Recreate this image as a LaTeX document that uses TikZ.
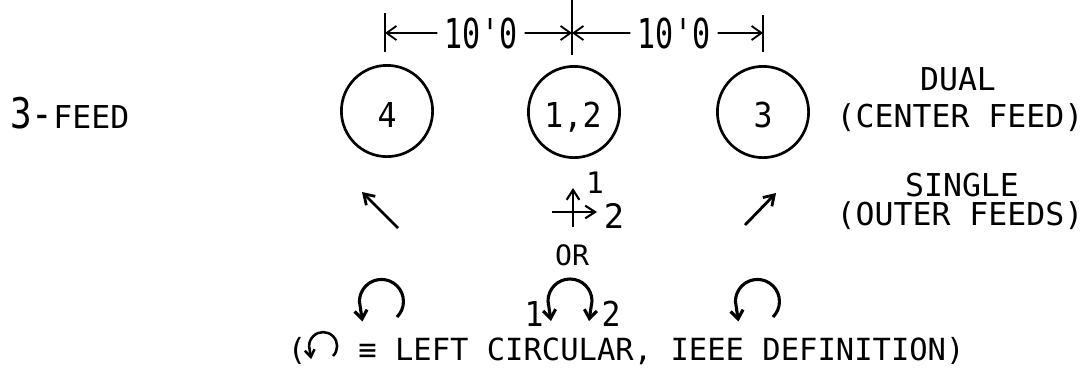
\documentclass[tikz,border=0pt]{standalone}
\usepackage{fontspec}
\setmonofont{DejaVu Sans Mono}
\usetikzlibrary{positioning, arrows.meta}

% narrow lettering-guide digits
\newcommand{\narrow}[2][0.8]{\scalebox{#1}[1]{#2}}

\begin{document}
\begin{tikzpicture}[x=0.025cm, y=-0.025cm,
    every node/.style={inner sep=0pt},
    feed/.style={draw, circle, line width=1.9pt, minimum size=2.28cm},
    lbl/.style={font=\ttfamily\fontsize{22.4pt}{26pt}\selectfont},
    num/.style={font=\ttfamily\fontsize{24.4pt}{28pt}\selectfont},
    dim/.style={font=\ttfamily\fontsize{29.3pt}{32pt}\selectfont, inner xsep=5pt},
    dimline/.style={line width=1.3pt, -{Straight Barb[length=7pt, width=10pt]}},
    tick/.style={line width=1.8pt},
    pol/.style={line width=2pt, -{Straight Barb[length=7pt, width=9pt]}},
    loop/.style={line width=2.2pt, line join=round, -{Straight Barb[length=6pt, width=9pt]}}]
  \useasboundingbox (0,0) rectangle (1092,369);

  % dimension line
  \coordinate (t1a) at (385,13);  \coordinate (t1b) at (385,52);
  \coordinate (t2a) at (572,0);   \coordinate (t2b) at (572,55);
  \coordinate (t3a) at (763,15);  \coordinate (t3b) at (763,52);
  \draw[tick] (t1a) -- (t1b);
  \draw[tick] (t2a) -- (t2b);
  \draw[tick] (t3a) -- (t3b);
  \coordinate (m1) at (385,33);
  \coordinate (m2) at (572,33);
  \coordinate (m3) at (763,33);
  \node[dim, anchor=base] (d1) at (481,48) {\narrow[0.73]{10'0}};
  \node[dim, anchor=base] (d2) at (674,48) {\narrow[0.73]{10'0}};
  \draw[dimline] (d1.west) -- (m1);
  \draw[dimline] (d1.east) -- (m2);
  \draw[dimline] (d2.west) -- (m2);
  \draw[dimline] (d2.east) -- (m3);

  % feeds
  \node[feed] (c4) at (387,111) {};
  \node[feed] (c12) at (574,112) {};
  \node[feed] (c3) at (763,112) {};
  \node[num, anchor=base] (n4) at (387,127) {\narrow[0.92]{4}};
  \node[num, anchor=base] (n12) at (573,127) {\narrow[0.92]{1,2}};
  \node[num, anchor=base] (n3) at (763,127) {\narrow[0.92]{3}};

  \node[anchor=base west] (three) at (10,128)
    {\ttfamily\fontsize{30pt}{32pt}\selectfont\narrow[0.85]{3-}\fontsize{22.4pt}{26pt}\selectfont FEED};

  \node[lbl, anchor=base] (dual) at (958,90) {DUAL};
  \node[lbl, anchor=base] (center) at (960,127) {(CENTER FEED)};
  \node[lbl, anchor=base] (single) at (962,196) {SINGLE};
  \node[lbl, anchor=base] (outer) at (960,225) {(OUTER FEEDS)};

  % single (outer) feeds
  \coordinate (l4a) at (398,228);  \coordinate (l4b) at (362,192);
  \coordinate (r3a) at (745,225);  \coordinate (r3b) at (776,193);
  \draw[pol] (l4a) -- (l4b);
  \draw[pol] (r3a) -- (r3b);

  % dual (center) feed
  \coordinate (vb) at (573,227);  \coordinate (vt) at (573,188);
  \coordinate (hl) at (552,212);  \coordinate (hr) at (597,212);
  \draw[pol, line width=1.5pt] (vb) -- (vt);
  \draw[pol, line width=1.5pt] (hl) -- (hr);
  \node[num, font=\ttfamily\fontsize{21pt}{24pt}\selectfont, anchor=base] (p1) at (595,193) {1};
  \node[num, font=\ttfamily\fontsize{24pt}{26pt}\selectfont, anchor=base] (p2) at (614,228) {2};

  \node[lbl, font=\ttfamily\fontsize{20pt}{22pt}\selectfont, anchor=base] (or) at (572,265) {OR};

  % circular polarisation
  \draw[loop] (397,317) arc (45:-180:22) -- ++(3,20);
  \draw[loop, {Straight Barb[length=6pt, width=9pt]}-{Straight Barb[length=6pt, width=9pt]}]
    (589,321) -- (592,301) arc (0:-180:22) -- ++(3,20);
  \draw[loop] (773,317) arc (45:-180:22) -- ++(3,20);
  \node[num, anchor=base] (q1) at (534,326) {\narrow[0.92]{1}};
  \node[num, anchor=base] (q2) at (611,326) {\narrow[0.92]{2}};

  % legend
  \node[lbl, font=\ttfamily\fontsize{21.7pt}{24pt}\selectfont, anchor=base] (lp) at (297,360) {(};
  \draw[loop, line width=1.8pt, -{Straight Barb[length=5pt, width=7pt]}]
    (333,356) arc (45:-180:14) -- ++(2,13);
  \node[lbl, font=\ttfamily\fontsize{21.7pt}{24pt}\selectfont, anchor=base west] (legend) at (358,360)
    {≡ LEFT CIRCULAR, IEEE DEFINITION)};
\end{tikzpicture}
\end{document}
